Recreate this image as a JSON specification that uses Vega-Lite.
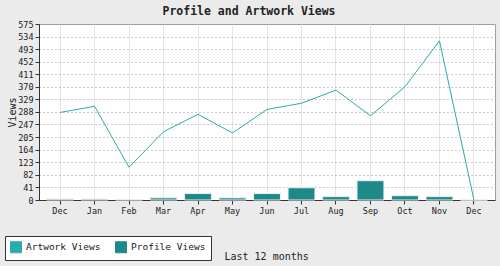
{
  "$schema": "https://vega.github.io/schema/vega-lite/v6.json",
  "width": 456,
  "height": 176,
  "autosize": {"type": "none"},
  "padding": {"left": 39, "top": 24, "right": 5, "bottom": 66},
  "background": "#ebebeb",
  "title": {
    "text": "Profile and Artwork Views",
    "font": "DejaVu Sans Mono",
    "fontSize": 11.5,
    "fontWeight": "bold",
    "color": "#222222",
    "anchor": "middle",
    "dx": -18,
    "offset": 3
  },
  "config": {
    "view": {"fill": "white", "stroke": "#a0a0a0", "strokeWidth": 1},
    "axis": {
      "labelFont": "DejaVu Sans Mono",
      "titleFont": "DejaVu Sans Mono",
      "labelFontSize": 8.5,
      "labelColor": "#222222",
      "titleColor": "#222222",
      "titleFontWeight": "normal",
      "domainColor": "#333333",
      "tickColor": "#333333",
      "tickSize": 4,
      "labelOverlap": false
    },
    "legend": {
      "labelFont": "DejaVu Sans Mono"
    }
  },
  "data": {
    "values": [
      {"i": 0, "month": "Dec", "artwork": 286, "profile": 3},
      {"i": 1, "month": "Jan", "artwork": 306, "profile": 3},
      {"i": 2, "month": "Feb", "artwork": 107, "profile": 1},
      {"i": 3, "month": "Mar", "artwork": 223, "profile": 7},
      {"i": 4, "month": "Apr", "artwork": 280, "profile": 21},
      {"i": 5, "month": "May", "artwork": 219, "profile": 7},
      {"i": 6, "month": "Jun", "artwork": 296, "profile": 21},
      {"i": 7, "month": "Jul", "artwork": 316, "profile": 40},
      {"i": 8, "month": "Aug", "artwork": 359, "profile": 11},
      {"i": 9, "month": "Sep", "artwork": 275, "profile": 63},
      {"i": 10, "month": "Oct", "artwork": 370, "profile": 14},
      {"i": 11, "month": "Nov", "artwork": 520, "profile": 11},
      {"i": 12, "month": "Dec", "artwork": 0, "profile": 0}
    ]
  },
  "encoding": {
    "x": {
      "field": "i",
      "type": "ordinal",
      "sort": null,
      "scale": {"paddingInner": 0.22, "paddingOuter": 0.22},
      "axis": {
        "title": "Last 12 months",
        "titleFontSize": 10,
        "titleAlign": "left",
        "titleBaseline": "alphabetic",
        "titleX": 185,
        "titleY": 59,
        "labelAngle": 0,
        "labelPadding": 2,
        "bandPosition": 0.5,
        "grid": true,
        "gridColor": "#e6e6e6",
        "gridWidth": 1,
        "labelExpr": "['Dec','Jan','Feb','Mar','Apr','May','Jun','Jul','Aug','Sep','Oct','Nov','Dec'][datum.value]"
      }
    }
  },
  "layer": [
    {
      "mark": {"type": "bar", "stroke": "#eeeeee", "strokeWidth": 1},
      "encoding": {
        "y": {
          "field": "profile",
          "type": "quantitative",
          "scale": {"domain": [0, 575], "nice": false},
          "axis": {
            "title": "Views",
            "titleFontSize": 10,
            "titlePadding": 0,
            "values": [0, 41, 82, 123, 164, 205, 247, 288, 329, 370, 411, 452, 493, 534, 575],
            "tickCount": 20,
            "grid": true,
            "gridColor": "#999999",
            "gridDash": [1, 3],
            "labelPadding": 2
          }
        },
        "color": {
          "datum": "Profile Views",
          "type": "nominal",
          "scale": {"domain": ["Artwork Views", "Profile Views"], "range": ["#2aacac", "#1d8a89"]},
          "legend": {
            "title": null,
            "orient": "none",
            "legendX": -34,
            "legendY": 212,
            "direction": "horizontal",
            "fillColor": "white",
            "strokeColor": "#333333",
            "padding": 5,
            "symbolType": "square",
            "symbolSize": 121,
            "symbolStrokeColor": "#333333",
            "symbolStrokeWidth": 1,
            "labelFontSize": 9.5,
            "labelColor": "#222222",
            "labelOffset": 4,
            "columnPadding": 12,
            "encode": {
              "symbols": {
                "update": {
                  "fill": {"scale": "color", "field": "value"},
                  "stroke": {"value": "#333333"},
                  "strokeWidth": {"value": 1},
                  "opacity": {"value": 1}
                }
              }
            }
          }
        }
      }
    },
    {
      "mark": {"type": "line", "strokeWidth": 1},
      "encoding": {
        "y": {"field": "artwork", "type": "quantitative"},
        "color": {"datum": "Artwork Views", "type": "nominal"}
      }
    }
  ]
}
